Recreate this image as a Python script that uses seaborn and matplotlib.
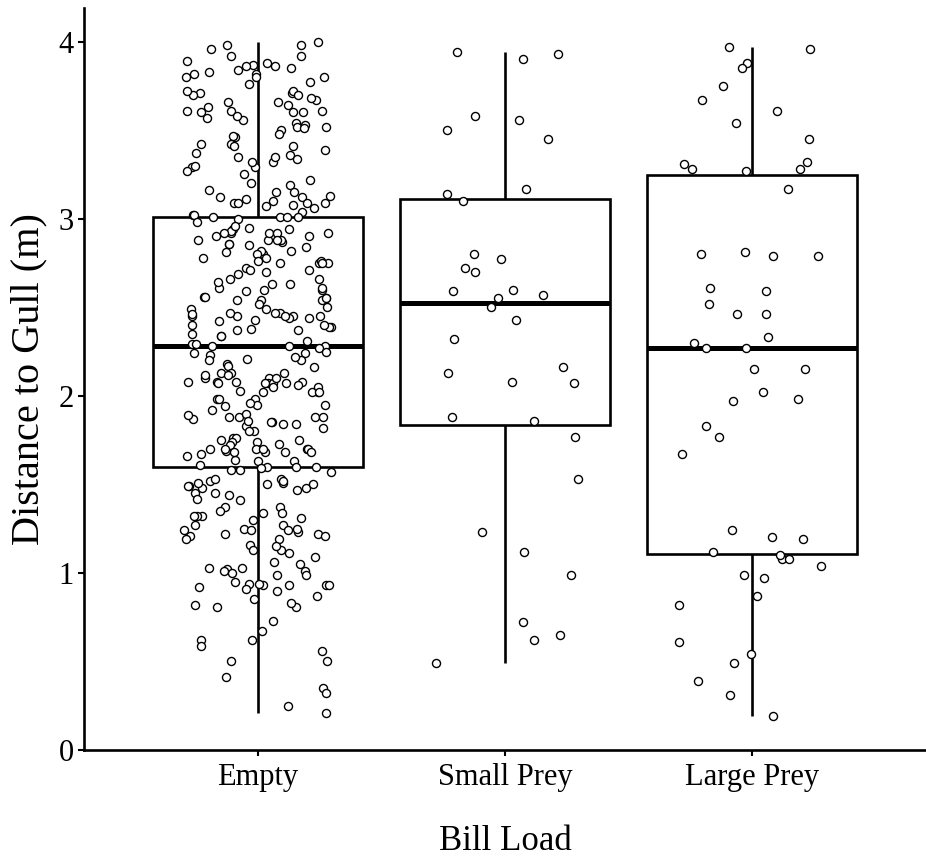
import numpy as np
import pandas as pd
import matplotlib
matplotlib.use("Agg")
import matplotlib.pyplot as plt
import seaborn as sns

categories = ["Empty", "Small Prey", "Large Prey"]

empty = [
    3.96, 3.89, 3.87, 3.85, 3.86, 3.82, 3.80, 3.80, 3.80, 3.77, 3.71, 3.71, 3.67, 3.68, 3.63,
    3.66, 3.61, 3.60, 3.61, 3.57, 3.54, 3.53, 3.46, 3.42, 3.42, 3.37, 3.36, 3.32, 3.29, 3.29,
    3.25, 3.22, 3.19, 3.10, 3.07, 3.09, 3.13, 3.09, 3.12, 3.04, 3.02, 3.00, 3.02,
    3.92, 3.82, 3.98, 3.98, 4.00, 3.92, 3.88, 3.86, 3.84, 3.83, 3.76, 3.72, 3.70, 3.72, 3.70,
    3.66, 3.64, 3.60, 3.61, 3.56, 3.58, 3.60, 3.52, 3.50, 3.51, 3.48, 3.52, 3.47, 3.41, 3.39,
    3.41, 3.35, 3.35, 3.32, 3.30, 3.27, 3.34, 3.20, 3.15, 3.15, 3.11, 3.09, 3.16, 3.12, 3.09,
    3.08, 3.06, 3.01, 3.01, 3.01, 3.01,
    2.94, 2.95, 2.92, 2.88, 2.87, 2.92, 2.93, 2.90, 2.90, 2.86, 2.85, 2.88, 2.86, 2.98, 2.96,
    2.94, 2.92, 2.92, 2.92, 2.88, 2.88, 2.84, 2.80, 2.75, 2.72, 2.81, 2.82, 2.76, 2.82, 2.80,
    2.76, 2.75, 2.71, 2.78, 2.75, 2.75, 2.71, 2.78, 2.70, 2.69, 2.66, 2.66, 2.60, 2.61, 2.59,
    2.55, 2.63, 2.61, 2.60, 2.64, 2.63, 2.54, 2.52, 2.56, 2.56, 2.54, 2.55, 2.50, 2.54, 2.49,
    2.49, 2.45, 2.47, 2.45, 2.42, 2.44, 2.40, 2.44, 2.39, 2.34, 2.35, 2.39, 2.37, 2.38, 2.43,
    2.45, 2.45, 2.46, 2.47, 2.47, 2.45, 2.40, 2.37, 2.34, 2.29, 2.31, 2.29, 2.28, 2.28, 2.27,
    2.24, 2.28,
    2.23, 2.25, 2.18, 2.20, 2.20, 2.17, 2.13, 2.13, 2.22, 2.16, 2.13, 2.12, 2.08, 2.21, 2.24,
    2.10, 2.07, 2.07, 2.07, 2.05, 2.02, 2.02, 2.02, 2.08, 2.10, 2.08, 2.08, 2.07, 2.06, 2.05,
    2.07, 2.12, 2.10, 2.03, 2.02, 1.98, 1.98, 1.98,
    1.95, 1.92, 1.88, 1.84, 1.80, 1.87, 1.90, 1.83, 1.96, 1.89, 1.94, 1.95, 1.88, 1.88, 1.84,
    1.86, 1.82, 1.88, 1.85, 1.85, 1.80, 1.75, 1.76, 1.73, 1.69, 1.64, 1.76, 1.74, 1.70, 1.68,
    1.66, 1.63, 1.63, 1.75, 1.74, 1.72, 1.70, 1.70, 1.70, 1.70, 1.68, 1.67, 1.68, 1.70, 1.68,
    1.61, 1.60, 1.60, 1.59, 1.58, 1.58, 1.60, 1.57, 1.52, 1.53, 1.51, 1.47, 1.48, 1.44, 1.45,
    1.45, 1.41, 1.50, 1.50, 1.49, 1.42, 1.53, 1.52, 1.48, 1.51, 1.49, 1.37, 1.37, 1.35, 1.34,
    1.32, 1.34, 1.32, 1.32, 1.27, 1.31, 1.30, 1.25, 1.24, 1.27, 1.22, 1.22, 1.21, 1.21, 1.24,
    1.23, 1.24, 1.25, 1.19, 1.16, 1.11, 1.06, 1.19, 1.13, 1.09, 1.05, 1.13, 1.15, 1.01, 1.02,
    1.03, 0.99, 0.99, 1.00, 1.03, 1.01,
    0.94, 0.92, 0.90, 0.87, 0.95, 0.93, 0.91, 0.93, 0.93, 0.93, 0.94, 0.81, 0.85, 0.83, 0.81,
    0.82, 0.73, 0.67, 0.62, 0.62, 0.56, 0.59, 0.50, 0.50, 0.41, 0.35, 0.32, 0.25, 0.21,
]

small_prey = [
    3.94, 3.93, 3.90, 3.58, 3.56, 3.50, 3.45, 3.17, 3.14, 3.10, 2.80, 2.77, 2.72, 2.70, 2.60,
    2.59, 2.57, 2.55, 2.50, 2.43, 2.32, 2.16, 2.13, 2.08, 2.07, 1.88, 1.86, 1.77, 1.53, 1.23,
    1.12, 0.99, 0.72, 0.65, 0.62, 0.49,
]

large_prey = [
    3.97, 3.96, 3.88, 3.85, 3.75, 3.67, 3.61, 3.54, 3.45, 3.31, 3.32, 3.28, 3.28, 3.27, 3.17,
    2.81, 2.80, 2.79, 2.79, 2.61, 2.59, 2.52, 2.46, 2.46, 2.33, 2.30, 2.27, 2.27, 2.15, 2.15,
    2.02, 1.98, 1.97, 1.83, 1.77, 1.67, 1.24, 1.20, 1.19, 1.12, 1.08, 1.08, 1.10, 1.04, 0.97,
    0.99, 0.87, 0.82, 0.61, 0.54, 0.49, 0.39, 0.31, 0.19,
]

df = pd.DataFrame({
    "load": ["Empty"] * len(empty) + ["Small Prey"] * len(small_prey) + ["Large Prey"] * len(large_prey),
    "dist": empty + small_prey + large_prey,
})

sns.set_theme(style="ticks")
plt.rcParams["font.family"] = ["Liberation Serif", "DejaVu Serif"]

fig = plt.figure(figsize=(9.26, 8.6), dpi=100)
ax = fig.add_axes([84 / 926, 1 - 750 / 860, 842 / 926, 742 / 860])

sns.boxplot(data=df, x="load", y="dist", order=categories, width=0.85, whis=10,
            showcaps=False, showfliers=False, color="white", linecolor="black",
            linewidth=1.9, medianprops=dict(linewidth=3.6), ax=ax)

np.random.seed(11)
sns.stripplot(data=df, x="load", y="dist", order=categories, jitter=0.3,
              color="white", edgecolor="black", linewidth=1.0, size=5.8,
              ax=ax, zorder=3)

ax.set_xlim(-0.705, 2.705)
ax.set_ylim(0, 4.19)
ax.set_yticks([0, 1, 2, 3, 4])
sns.despine(ax=ax)
for s in ["left", "bottom"]:
    ax.spines[s].set_linewidth(1.9)
    ax.spines[s].set_color("black")
ax.tick_params(direction="out", length=4, width=1.5, labelsize=22, colors="black")
ax.tick_params(axis="x", pad=5)
ax.set_xlabel("Bill Load", fontsize=25, labelpad=24, color="black")
ax.set_ylabel("Distance to Gull (m)", fontsize=29, labelpad=8, color="black")

fig.savefig("out.png", dpi=100)
